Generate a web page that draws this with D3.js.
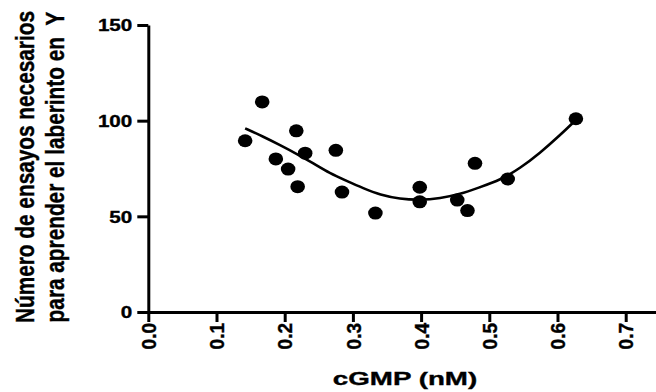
<!DOCTYPE html>
<html>
<head>
<meta charset="utf-8">
<script src="https://cdn.jsdelivr.net/npm/d3@7/dist/d3.min.js"></script>
<style>
  html, body { margin: 0; padding: 0; background: #fff; }
  svg { display: block; }
  text { font-family: "Liberation Sans", Arial, sans-serif; font-weight: bold; fill: #000; stroke: #000; stroke-width: 0.35px; white-space: pre; }
</style>
</head>
<body>
<svg id="chart" width="656" height="392"></svg>
<script>
// ---- data ----
const cgmp    = [0.142, 0.167, 0.187, 0.205, 0.217, 0.219, 0.230, 0.275, 0.284, 0.333, 0.398, 0.398, 0.453, 0.468, 0.479, 0.527, 0.627];
const ensayos = [89.5, 109.8, 80.0, 74.7, 94.7, 65.5, 83.0, 84.5, 62.7, 51.7, 65.2, 57.6, 58.5, 53.0, 77.7, 69.5, 101.0];

// fitted curve (second-order polynomial)
const fitX = [0.142, 0.169, 0.193, 0.218, 0.242, 0.266, 0.291, 0.315, 0.340, 0.369, 0.398, 0.428, 0.457, 0.486, 0.516, 0.545, 0.574, 0.604, 0.627];
const fitY = [96.0, 91.6, 87.3, 82.6, 77.7, 72.5, 68.5, 64.7, 61.2, 59.1, 58.5, 59.4, 61.5, 65.2, 69.0, 75.1, 83.0, 92.5, 100.4];

const xTicks = [0, 0.1, 0.2, 0.3, 0.4, 0.5, 0.6, 0.7];
const yTicks = [0, 50, 100, 150];
const xTitle = "cGMP (nM)";
const yTitleLines = ["Número de ensayos necesarios", "para aprender el laberinto en\u00A0\u00A0Y"];

// ---- layout ----
const svg = d3.select("#chart");
const x = d3.scaleLinear().domain([0, 0.75]).range([148.3, 148.3 + 0.75 * 682]);
const y = d3.scaleLinear().domain([0, 150]).range([312, 25]);

// x axis
const gx = svg.append("g").attr("transform", `translate(0,${y(0)})`)
  .call(d3.axisBottom(x).tickValues(xTicks).tickFormat(d3.format(".1f")).tickSize(10).tickSizeOuter(0));
gx.select(".domain").attr("stroke", "#000").attr("stroke-width", 3);
gx.selectAll(".tick line").attr("stroke", "#000").attr("stroke-width", 3);
gx.selectAll(".tick text")
  .attr("x", null).attr("y", null).attr("dy", null)
  .attr("text-anchor", "end")
  .attr("dominant-baseline", "central")
  .attr("font-size", 19)
  .attr("transform", "translate(0,11) scale(1.08,1) rotate(-90)");

// y axis
const gy = svg.append("g").attr("transform", `translate(${x(0)},0)`)
  .call(d3.axisLeft(y).tickValues(yTicks).tickSize(11).tickSizeOuter(0));
gy.select(".domain").attr("stroke", "#000").attr("stroke-width", 3);
gy.selectAll(".tick line").attr("stroke", "#000").attr("stroke-width", 3);
gy.selectAll(".tick text")
  .attr("x", null).attr("y", null).attr("dy", "0.36em")
  .attr("text-anchor", "end")
  .attr("font-size", 16.5)
  .attr("transform", "translate(-16,0) scale(1.25,1)");

// fit curve
const line = d3.line().x((d, i) => x(fitX[i])).y((d, i) => y(fitY[i])).curve(d3.curveBasis);
svg.append("path").datum(fitY).attr("d", line)
  .attr("fill", "none").attr("stroke", "#000").attr("stroke-width", 2.6);

// points
svg.append("g").selectAll("ellipse").data(cgmp).join("ellipse")
  .attr("cx", (d) => x(d))
  .attr("cy", (d, i) => y(ensayos[i]))
  .attr("rx", 7.3).attr("ry", 6.5)
  .attr("fill", "#000");

// axis titles
svg.append("text")
  .attr("text-anchor", "middle")
  .attr("font-size", 18.5)
  .attr("transform", `translate(405,385) scale(1.5,1)`)
  .text(xTitle);

yTitleLines.forEach((t, i) => {
  svg.append("text")
    .attr("text-anchor", "middle")
    .attr("font-size", 20.8)
    .attr("transform", `translate(${34 + i * 30},167) scale(1.22,1) rotate(-90)`)
    .text(t);
});
</script>
</body>
</html>
